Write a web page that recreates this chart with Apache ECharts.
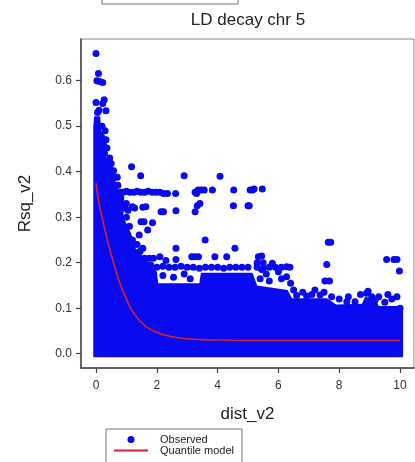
<!DOCTYPE html>
<html>
<head>
<meta charset="utf-8">
<script src="https://cdn.jsdelivr.net/npm/echarts@6/dist/echarts.min.js"></script>
<style>html,body{margin:0;padding:0;background:#fff}#c{width:415px;height:462px}</style>
</head>
<body>
<div id="c"></div>
<script>
// ---- data ----
const xTicks = [0, 2, 4, 6, 8, 10];
const yTicks = [0, 0.1, 0.2, 0.3, 0.4, 0.5, 0.6];

// outer edge of the dense, saturated part of the observed cloud (x, y)
const cloudX = [-0.09, -0.09, -0.06, 0.14, 0.17, 0.34, 0.37, 0.30, 0.45, 0.56, 0.62, 0.72, 0.93, 0.90, 1.15, 1.30, 1.50, 1.68, 1.80, 2.00, 2.05, 3.40, 3.45, 5.15, 5.30, 6.30, 6.45, 7.60, 7.90, 8.75, 8.85, 9.20, 9.30, 10.08, 10.10, 10.10];
const cloudY = [-0.008, 0.50, 0.522, 0.522, 0.49, 0.475, 0.445, 0.435, 0.42, 0.41, 0.385, 0.362, 0.345, 0.30, 0.265, 0.232, 0.218, 0.205, 0.195, 0.18, 0.155, 0.155, 0.178, 0.178, 0.15, 0.14, 0.122, 0.122, 0.108, 0.11, 0.125, 0.12, 0.105, 0.105, 0.09, -0.008];

// individual observed points outside the dense cloud
const obsPoints = [
  [0.0,0.66],[0.08,0.616],[0.03,0.60],[0.12,0.598],[0.22,0.596],[0.0,0.552],[0.27,0.558],[0.22,0.55],[0.33,0.534],[0.1,0.535],[0.05,0.53],
  [0.2,0.5],[0.3,0.49],[0.33,0.47],[0.36,0.452],[0.28,0.44],[0.45,0.43],[0.5,0.418],[0.58,0.402],[0.62,0.388],[0.72,0.37],
  [1.17,0.411],[1.47,0.391],[0.70,0.388],[2.9,0.391],[4.08,0.39],
  [0.8,0.355],[0.9,0.355],[1.0,0.357],[1.12,0.355],[1.25,0.355],[1.35,0.357],[1.47,0.355],[1.6,0.355],[1.72,0.357],[1.85,0.355],[1.97,0.355],[2.1,0.355],[2.22,0.352],[2.35,0.352],[2.62,0.352],
  [3.26,0.355],[3.31,0.352],[3.36,0.36],[3.46,0.36],[3.56,0.36],[3.83,0.36],[4.53,0.36],[5.07,0.36],[5.15,0.36],[5.2,0.362],[5.47,0.362],
  [1.0,0.33],[1.05,0.315],[1.2,0.323],[1.27,0.32],[1.54,0.322],[1.64,0.323],[2.14,0.312],[2.22,0.312],[2.63,0.314],[3.26,0.312],[3.33,0.325],[3.42,0.33],[4.52,0.325],[5.0,0.325],[5.04,0.325],
  [1.48,0.29],[1.58,0.29],[1.86,0.288],[1.42,0.261],[1.7,0.272],[1.54,0.232],[2.63,0.232],[1.75,0.21],[1.89,0.21],[2.1,0.213],[2.63,0.207],[2.3,0.205],
  [0.95,0.32],[1.0,0.3],[1.1,0.28],[1.2,0.25],[1.35,0.24],[1.45,0.225],[1.6,0.21],
  [1.6,0.19],[1.8,0.195],[2.0,0.19],[2.2,0.192],[2.4,0.19],[2.6,0.19],[2.8,0.192],[3.0,0.19],[3.2,0.19],[3.4,0.188],[3.6,0.19],[3.8,0.19],[4.0,0.19],[4.2,0.188],[4.4,0.19],[4.6,0.19],[4.8,0.19],[5.0,0.19],[5.3,0.19],[5.5,0.188],[5.7,0.19],[5.9,0.19],[6.1,0.19],[6.38,0.19],
  [2.2,0.172],[2.55,0.168],[2.9,0.175],[3.1,0.165],
  [3.59,0.25],[4.57,0.232],[3.15,0.213],[3.25,0.213],[3.37,0.213],[3.91,0.213],[4.30,0.213],[5.34,0.213],[5.45,0.215],[5.5,0.2],
  [5.3,0.2],[5.45,0.185],[5.6,0.175],[5.8,0.199],[6.0,0.18],[6.27,0.191],[6.27,0.169],[5.4,0.165],[5.7,0.16],[6.1,0.165],[6.4,0.155],
  [6.22,0.133],[6.6,0.128],[6.93,0.127],[7.1,0.13],[7.37,0.129],[7.75,0.125],[8.25,0.114],[8.52,0.114],[8.9,0.133],[9.07,0.125],[9.18,0.118],[9.5,0.113],[9.73,0.12],[10.0,0.1],
  [6.5,0.14],[6.8,0.135],[7.2,0.14],[7.5,0.135],[8.0,0.12],[8.3,0.125],[8.7,0.13],[8.95,0.137],[9.3,0.125],[9.6,0.13],[9.9,0.125],
  [7.64,0.245],[7.72,0.245],[7.59,0.196],[7.53,0.160],[7.68,0.16],[9.56,0.207],[9.8,0.207],[9.9,0.207],[9.98,0.182]
];

// quantile model curve
const modelX = [0, 0.1, 0.2, 0.3, 0.45, 0.6, 0.8, 1.0, 1.2, 1.5, 1.8, 2.2, 2.6, 3.0, 3.5, 4.0, 5.0, 7.0, 10.0];
const modelY = [0.375, 0.33, 0.30, 0.27, 0.23, 0.195, 0.152, 0.12, 0.093, 0.068, 0.053, 0.042, 0.036, 0.033, 0.031, 0.030, 0.029, 0.029, 0.029];

const BLUE = '#0a0af0';
const RED = '#d8202e';
const FONT = '"Liberation Sans", Arial, sans-serif';

const chart = echarts.init(document.getElementById('c'), null, {renderer: 'canvas'});
chart.setOption({
  animation: false,
  backgroundColor: '#fff',
  textStyle: {fontFamily: FONT},
  title: {
    text: 'LD decay chr 5', left: 248, top: 12, textAlign: 'center', padding: 0,
    textStyle: {fontSize: 17, fontWeight: 'normal', color: '#222', fontFamily: FONT}
  },
  grid: {left: 81, right: 1, top: 39, bottom: 94, show: true, borderColor: '#888', borderWidth: 1},
  xAxis: {
    type: 'value', min: -0.493, max: 10.46,
    name: 'dist_v2', nameLocation: 'middle', nameGap: 38,
    nameTextStyle: {fontSize: 17, color: '#222', fontFamily: FONT},
    axisLine: {show: true, onZero: false, lineStyle: {color: '#444', width: 1.5}},
    axisTick: {show: true, length: 5, lineStyle: {color: '#444', width: 1.2}, customValues: xTicks},
    axisLabel: {customValues: xTicks, fontSize: 12, color: '#333', margin: 12, fontFamily: FONT},
    splitLine: {show: false}
  },
  yAxis: {
    type: 'value', min: -0.0314, max: 0.6916,
    name: 'Rsq_v2', nameLocation: 'middle', nameGap: 47, nameRotate: 90,
    nameTextStyle: {fontSize: 17, color: '#222', fontFamily: FONT},
    axisLine: {show: true, onZero: false, lineStyle: {color: '#444', width: 1.5}},
    axisTick: {show: true, length: 5, lineStyle: {color: '#444', width: 1.2}, customValues: yTicks},
    axisLabel: {customValues: yTicks, fontSize: 12, color: '#333', margin: 9, fontFamily: FONT,
      formatter: v => v.toFixed(1)},
    splitLine: {show: false}
  },
  legend: {
    orient: 'vertical', left: 113, top: 434, itemGap: 0, itemWidth: 34, itemHeight: 7,
    padding: 0,
    textStyle: {fontSize: 11, color: '#222', lineHeight: 11, padding: [0, 0, 0, 7], fontFamily: FONT},
    data: [
      {name: 'Observed', icon: 'circle'},
      {name: 'Quantile model', itemStyle: {color: 'rgba(0,0,0,0)', borderWidth: 0}, lineStyle: {color: RED, width: 2}}
    ]
  },
  graphic: [
    {type: 'rect', shape: {x: 102, y: -10, width: 136, height: 14}, style: {fill: 'none', stroke: '#777', lineWidth: 1}},
    {type: 'rect', shape: {x: 106, y: 429, width: 136, height: 40}, style: {fill: 'none', stroke: '#777', lineWidth: 1}, z: -1}
  ],
  series: [
    {
      name: 'Observed cloud', type: 'custom', z: 1, silent: true,
      data: [[0, 0]],
      renderItem: function (params, api) {
        const pts = cloudX.map((x, i) => api.coord([x, cloudY[i]]));
        return {type: 'polygon', shape: {points: pts}, style: {fill: BLUE}};
      }
    },
    {
      name: 'Observed', type: 'scatter', z: 2, symbol: 'circle', symbolSize: 7,
      itemStyle: {color: BLUE, opacity: 1},
      data: obsPoints
    },
    {
      name: 'Quantile model', type: 'line', z: 3, symbol: 'none', smooth: true,
      lineStyle: {color: RED, width: 1.6}, itemStyle: {color: RED},
      data: modelX.map((x, i) => [x, modelY[i]])
    }
  ]
});
</script>
</body>
</html>
